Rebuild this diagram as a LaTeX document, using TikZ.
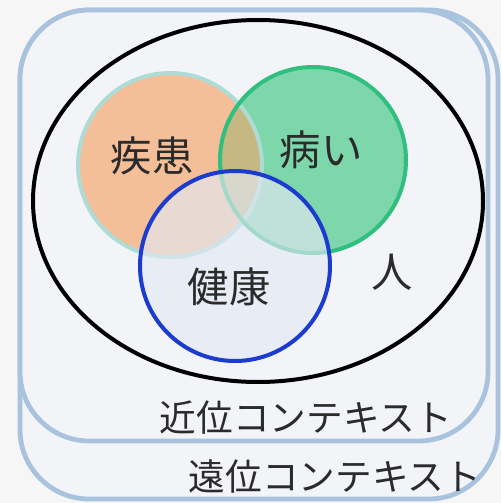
\documentclass[tikz,border=0pt]{standalone}
\usepackage{fontspec}
\setmainfont{Noto Sans CJK JP}
\usetikzlibrary{positioning}
\definecolor{ctxblue}{HTML}{A9C2DE}
\definecolor{ctxfill}{HTML}{F3F4F8}
\definecolor{pagebg}{HTML}{F6F6F6}
\definecolor{diseaseorange}{HTML}{F4BE98}
\definecolor{diseaserim}{HTML}{ADDCD6}
\definecolor{illgreen}{HTML}{7ED6AB}
\definecolor{illrim}{HTML}{2FBF7E}
\definecolor{overlapkhaki}{HTML}{C6B883}
\definecolor{healthfill}{HTML}{E2E8F4}
\definecolor{healthblue}{HTML}{1B3CCF}
\definecolor{textgray}{HTML}{2B2B2B}

\begin{document}
\begin{tikzpicture}[x=0.75pt, y=-0.75pt,
  ctxbox/.style={draw=ctxblue, line width=3.6pt, fill=ctxfill, rounded corners=52pt},
  setcirc/.style={line width=3pt},
  biglabel/.style={font=\fontsize{31}{31}\selectfont, text=textgray, inner sep=0pt},
  ctxlabel/.style={font=\fontsize{27.5}{27.5}\selectfont, text=textgray, inner sep=0pt}
]
  \useasboundingbox (0,0) rectangle (501,503);
  \fill[pagebg] (0,0) rectangle (501,503);

  % context boxes
  \draw[ctxbox] (20,10) rectangle (498,499);
  \draw[ctxbox] (20,10) rectangle (488,441);

  % person ellipse
  \draw[line width=3pt] (258,201) ellipse [x radius=225, y radius=181];

  % disease and illness
  \fill[diseaseorange] (170,165) circle [radius=92];
  \fill[illgreen] (313,160) circle [radius=93];
  \begin{scope}
    \clip (170,165) circle [radius=92];
    \fill[overlapkhaki] (313,160) circle [radius=93];
  \end{scope}
  \draw[setcirc, draw=diseaserim] (170,165) circle [radius=92];
  \draw[setcirc, draw=illrim] (313,160) circle [radius=93];

  % health
  \fill[healthfill, fill opacity=0.65] (235,266) circle [radius=95];
  \draw[setcirc, draw=healthblue] (235,266) circle [radius=95];

  \node[biglabel] (disease) at (152,156) {疾患};
  \node[biglabel] (illness) at (321,150) {病い};
  \node[biglabel] (health) at (229,287) {健康};
  \node[biglabel] (person) at (392,272) {人};
  \node[ctxlabel] (proximal) at (306,418) {近位コンテキスト};
  \node[ctxlabel] (distal) at (335,477) {遠位コンテキスト};
\end{tikzpicture}
\end{document}
